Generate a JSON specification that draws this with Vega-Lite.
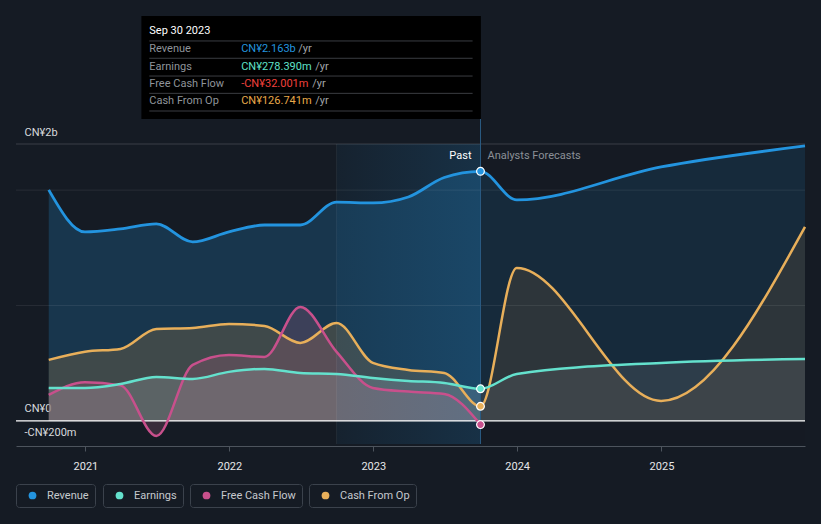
{
  "$schema": "https://vega.github.io/schema/vega-lite/v6.json",
  "width": 789,
  "height": 300,
  "autosize": {"type": "none"},
  "padding": {"left": 16, "top": 144, "right": 16, "bottom": 80},
  "background": "#151b24",
  "config": {
    "view": {"stroke": null},
    "font": "Roboto",
    "text": {"font": "Roboto", "fontSize": 11}
  },
  "datasets": {
    "fin": [
      {"date": "2020-09-30", "series": "Revenue", "value": 2002},
      {"date": "2020-12-31", "series": "Revenue", "value": 1638},
      {"date": "2021-03-31", "series": "Revenue", "value": 1664},
      {"date": "2021-06-30", "series": "Revenue", "value": 1707},
      {"date": "2021-09-30", "series": "Revenue", "value": 1551},
      {"date": "2021-12-31", "series": "Revenue", "value": 1638},
      {"date": "2022-03-31", "series": "Revenue", "value": 1698},
      {"date": "2022-06-30", "series": "Revenue", "value": 1698},
      {"date": "2022-09-30", "series": "Revenue", "value": 1896},
      {"date": "2022-12-31", "series": "Revenue", "value": 1889},
      {"date": "2023-03-31", "series": "Revenue", "value": 1941},
      {"date": "2023-06-30", "series": "Revenue", "value": 2110},
      {"date": "2023-09-30", "series": "Revenue", "value": 2163},
      {"date": "2023-12-31", "series": "Revenue", "value": 1915},
      {"date": "2024-12-31", "series": "Revenue", "value": 2201},
      {"date": "2025-12-31", "series": "Revenue", "value": 2383},
      {"date": "2020-09-30", "series": "Earnings", "value": 286},
      {"date": "2020-12-31", "series": "Earnings", "value": 286},
      {"date": "2021-03-31", "series": "Earnings", "value": 320},
      {"date": "2021-06-30", "series": "Earnings", "value": 381},
      {"date": "2021-09-30", "series": "Earnings", "value": 364},
      {"date": "2021-12-31", "series": "Earnings", "value": 425},
      {"date": "2022-03-31", "series": "Earnings", "value": 451},
      {"date": "2022-06-30", "series": "Earnings", "value": 416},
      {"date": "2022-09-30", "series": "Earnings", "value": 407},
      {"date": "2022-12-31", "series": "Earnings", "value": 373},
      {"date": "2023-03-31", "series": "Earnings", "value": 347},
      {"date": "2023-06-30", "series": "Earnings", "value": 329},
      {"date": "2023-09-30", "series": "Earnings", "value": 278.39},
      {"date": "2023-12-31", "series": "Earnings", "value": 407},
      {"date": "2024-12-31", "series": "Earnings", "value": 503},
      {"date": "2025-12-31", "series": "Earnings", "value": 537},
      {"date": "2020-09-30", "series": "Free Cash Flow", "value": 225},
      {"date": "2020-12-31", "series": "Free Cash Flow", "value": 336},
      {"date": "2021-03-31", "series": "Free Cash Flow", "value": 308},
      {"date": "2021-06-30", "series": "Free Cash Flow", "value": -130},
      {"date": "2021-09-30", "series": "Free Cash Flow", "value": 485},
      {"date": "2021-12-31", "series": "Free Cash Flow", "value": 572},
      {"date": "2022-03-31", "series": "Free Cash Flow", "value": 555},
      {"date": "2022-06-30", "series": "Free Cash Flow", "value": 988},
      {"date": "2022-09-30", "series": "Free Cash Flow", "value": 598},
      {"date": "2022-12-31", "series": "Free Cash Flow", "value": 286},
      {"date": "2023-03-31", "series": "Free Cash Flow", "value": 254},
      {"date": "2023-06-30", "series": "Free Cash Flow", "value": 234},
      {"date": "2023-09-30", "series": "Free Cash Flow", "value": -32.001},
      {"date": "2020-09-30", "series": "Cash From Op", "value": 529},
      {"date": "2020-12-31", "series": "Cash From Op", "value": 600},
      {"date": "2021-03-31", "series": "Cash From Op", "value": 624},
      {"date": "2021-06-30", "series": "Cash From Op", "value": 797},
      {"date": "2021-09-30", "series": "Cash From Op", "value": 806},
      {"date": "2021-12-31", "series": "Cash From Op", "value": 841},
      {"date": "2022-03-31", "series": "Cash From Op", "value": 823},
      {"date": "2022-06-30", "series": "Cash From Op", "value": 676},
      {"date": "2022-09-30", "series": "Cash From Op", "value": 849},
      {"date": "2022-12-31", "series": "Cash From Op", "value": 503},
      {"date": "2023-03-31", "series": "Cash From Op", "value": 442},
      {"date": "2023-06-30", "series": "Cash From Op", "value": 416},
      {"date": "2023-09-30", "series": "Cash From Op", "value": 126.741},
      {"date": "2023-12-31", "series": "Cash From Op", "value": 1326},
      {"date": "2024-12-31", "series": "Cash From Op", "value": 173},
      {"date": "2025-12-31", "series": "Cash From Op", "value": 1681}
    ],
    "tip": [
      {"label": "Revenue", "amount": "CN¥2.163b", "unit": "/yr"},
      {"label": "Earnings", "amount": "CN¥278.390m", "unit": "/yr"},
      {"label": "Free Cash Flow", "amount": "-CN¥32.001m", "unit": "/yr"},
      {"label": "Cash From Op", "amount": "CN¥126.741m", "unit": "/yr"}
    ]
  },
  "resolve": {"scale": {"stroke": "independent"}, "legend": {"stroke": "independent"}},
  "layer": [
    {
      "data": {"name": "fin"},
      "transform": [{"filter": "datum.series == 'Revenue'"}],
      "mark": {"type": "area", "interpolate": "monotone", "color": "#2394df", "opacity": 0.22},
      "encoding": {
        "x": {
          "field": "date", "type": "temporal", "title": null,
          "scale": {"domain": [{"year": 2020, "month": 7, "date": 9}, {"year": 2025, "month": 12, "date": 31}]},
          "axis": {
            "values": [
              {"year": 2021, "month": 1, "date": 1},
              {"year": 2022, "month": 1, "date": 1},
              {"year": 2023, "month": 1, "date": 1},
              {"year": 2024, "month": 1, "date": 1},
              {"year": 2025, "month": 1, "date": 1}
            ],
            "format": "%Y", "grid": false, "offset": 2,
            "domainColor": "#4d545d", "tickColor": "#4d545d", "tickSize": 5,
            "labelColor": "#e6e7e9", "labelFontSize": 11, "labelFont": "Roboto",
            "labelPadding": 9, "labelFlush": false, "title": null
          }
        },
        "y": {
          "field": "value", "type": "quantitative", "title": null,
          "scale": {"domain": [-200, 2400], "nice": false, "zero": false},
          "axis": {
            "values": [-200, 0, 2400],
            "labelExpr": "datum.value == 2400 ? 'CN¥2b' : datum.value == 0 ? 'CN¥0' : '-CN¥200m'",
            "grid": false, "domain": false, "ticks": false,
            "labelAlign": "left", "labelBaseline": "middle", "labelPadding": -8, "labelOffset": -12,
            "labelColor": "#d8dadd", "labelFontSize": 11, "labelFont": "Roboto",
            "labelOverlap": false, "labelBound": false, "labelFlush": false, "title": null
          }
        },
        "y2": {"datum": 0}
      }
    },
    {
      "data": {"name": "fin"},
      "transform": [{"filter": "datum.series == 'Cash From Op'"}],
      "mark": {"type": "area", "interpolate": "monotone", "color": "#6e6247", "opacity": 0.45},
      "encoding": {
        "x": {"field": "date", "type": "temporal", "title": null},
        "y": {"field": "value", "type": "quantitative", "title": null},
        "y2": {"datum": 0}
      }
    },
    {
      "data": {"name": "fin"},
      "transform": [{"filter": "datum.series == 'Free Cash Flow'"}],
      "mark": {"type": "area", "interpolate": "monotone", "color": "#a86080", "opacity": 0.25},
      "encoding": {
        "x": {"field": "date", "type": "temporal", "title": null},
        "y": {"field": "value", "type": "quantitative", "title": null},
        "y2": {"datum": 0}
      }
    },
    {
      "data": {"name": "fin"},
      "transform": [{"filter": "datum.series == 'Earnings'"}],
      "mark": {"type": "area", "interpolate": "monotone", "color": "#a4a8ac", "opacity": 0.28},
      "encoding": {
        "x": {"field": "date", "type": "temporal", "title": null},
        "y": {"field": "value", "type": "quantitative", "title": null},
        "y2": {"datum": 0}
      }
    },
    {
      "data": {"values": [{}]},
      "mark": {"type": "rect", "color": "#151b24", "opacity": 0.42},
      "encoding": {
        "x": {"datum": {"year": 2023, "month": 9, "date": 30}, "type": "temporal"},
        "x2": {"datum": {"year": 2025, "month": 12, "date": 31}},
        "y": {"datum": -200, "type": "quantitative"},
        "y2": {"datum": 2400}
      }
    },
    {
      "data": {"values": [{}]},
      "mark": {
        "type": "rect",
        "fill": {
          "gradient": "linear", "x1": 0, "y1": 0, "x2": 1, "y2": 0,
          "stops": [
            {"offset": 0, "color": "rgba(35,148,223,0.06)"},
            {"offset": 1, "color": "rgba(35,148,223,0.18)"}
          ]
        }
      },
      "encoding": {
        "x": {"datum": {"year": 2022, "month": 9, "date": 30}, "type": "temporal"},
        "x2": {"datum": {"year": 2023, "month": 9, "date": 30}},
        "y": {"datum": -200, "type": "quantitative"},
        "y2": {"datum": 2400}
      }
    },
    {
      "data": {"values": [{"v": 2000}, {"v": 1000}]},
      "mark": {"type": "rule", "color": "#ffffff", "opacity": 0.08, "strokeWidth": 1},
      "encoding": {"y": {"field": "v", "type": "quantitative", "title": null}}
    },
    {
      "data": {"values": [{}]},
      "mark": {"type": "rule", "color": "#ffffff", "opacity": 0.16, "strokeWidth": 1},
      "encoding": {"y": {"datum": 2400, "type": "quantitative"}}
    },
    {
      "data": {"values": [{}]},
      "mark": {"type": "rule", "color": "#ffffff", "opacity": 0.06, "strokeWidth": 1},
      "encoding": {
        "x": {"datum": {"year": 2022, "month": 9, "date": 30}, "type": "temporal"},
        "y": {"datum": -200, "type": "quantitative"},
        "y2": {"datum": 2400}
      }
    },
    {
      "data": {"values": [{}]},
      "mark": {"type": "rule", "color": "#2a5b82", "strokeWidth": 1},
      "encoding": {
        "x": {"datum": {"year": 2023, "month": 9, "date": 30}, "type": "temporal"},
        "y": {"datum": -200, "type": "quantitative"},
        "y2": {"datum": 2617}
      }
    },
    {
      "data": {"values": [{}]},
      "mark": {"type": "rule", "color": "#ffffff", "strokeWidth": 1.3},
      "encoding": {"y": {"datum": 0, "type": "quantitative"}}
    },
    {
      "data": {"name": "fin"},
      "transform": [{"filter": "datum.series == 'Cash From Op'"}],
      "mark": {"type": "line", "interpolate": "monotone", "strokeWidth": 2.5},
      "encoding": {
        "x": {"field": "date", "type": "temporal", "title": null},
        "y": {"field": "value", "type": "quantitative", "title": null},
        "stroke": {
          "field": "series", "type": "nominal", "scale": {"range": ["#e8af5a"]},
          "legend": {
            "title": null, "orient": "none", "legendX": 293, "legendY": 340, "direction": "horizontal",
            "symbolType": "circle", "symbolSize": 60, "symbolStrokeWidth": 0, "symbolOffset": 5,
            "labelOffset": 9, "labelColor": "#c5c9ce", "labelFontSize": 11, "labelFont": "Roboto",
            "strokeColor": "#3b424c", "padding": 6, "cornerRadius": 3,
            "encode": {"symbols": {"update": {"fill": {"value": "#e8af5a"}, "fillOpacity": {"value": 1}}}}
          }
        }
      }
    },
    {
      "data": {"name": "fin"},
      "transform": [{"filter": "datum.series == 'Free Cash Flow'"}],
      "mark": {"type": "line", "interpolate": "monotone", "strokeWidth": 2.5},
      "encoding": {
        "x": {"field": "date", "type": "temporal", "title": null},
        "y": {"field": "value", "type": "quantitative", "title": null},
        "stroke": {
          "field": "series", "type": "nominal", "scale": {"range": ["#c8508c"]},
          "legend": {
            "title": null, "orient": "none", "legendX": 174, "legendY": 340, "direction": "horizontal",
            "symbolType": "circle", "symbolSize": 60, "symbolStrokeWidth": 0, "symbolOffset": 5,
            "labelOffset": 9, "labelColor": "#c5c9ce", "labelFontSize": 11, "labelFont": "Roboto",
            "strokeColor": "#3b424c", "padding": 6, "cornerRadius": 3,
            "encode": {"symbols": {"update": {"fill": {"value": "#c8508c"}, "fillOpacity": {"value": 1}}}}
          }
        }
      }
    },
    {
      "data": {"name": "fin"},
      "transform": [{"filter": "datum.series == 'Earnings'"}],
      "mark": {"type": "line", "interpolate": "monotone", "strokeWidth": 2.5},
      "encoding": {
        "x": {"field": "date", "type": "temporal", "title": null},
        "y": {"field": "value", "type": "quantitative", "title": null},
        "stroke": {
          "field": "series", "type": "nominal", "scale": {"range": ["#64e1cd"]},
          "legend": {
            "title": null, "orient": "none", "legendX": 87, "legendY": 340, "direction": "horizontal",
            "symbolType": "circle", "symbolSize": 60, "symbolStrokeWidth": 0, "symbolOffset": 5,
            "labelOffset": 9, "labelColor": "#c5c9ce", "labelFontSize": 11, "labelFont": "Roboto",
            "strokeColor": "#3b424c", "padding": 6, "cornerRadius": 3,
            "encode": {"symbols": {"update": {"fill": {"value": "#64e1cd"}, "fillOpacity": {"value": 1}}}}
          }
        }
      }
    },
    {
      "data": {"name": "fin"},
      "transform": [{"filter": "datum.series == 'Revenue'"}],
      "mark": {"type": "line", "interpolate": "monotone", "strokeWidth": 2.8},
      "encoding": {
        "x": {"field": "date", "type": "temporal", "title": null},
        "y": {"field": "value", "type": "quantitative", "title": null},
        "stroke": {
          "field": "series", "type": "nominal", "scale": {"range": ["#2394df"]},
          "legend": {
            "title": null, "orient": "none", "legendX": 0, "legendY": 340, "direction": "horizontal",
            "symbolType": "circle", "symbolSize": 60, "symbolStrokeWidth": 0, "symbolOffset": 5,
            "labelOffset": 9, "labelColor": "#c5c9ce", "labelFontSize": 11, "labelFont": "Roboto",
            "strokeColor": "#3b424c", "padding": 6, "cornerRadius": 3,
            "encode": {"symbols": {"update": {"fill": {"value": "#2394df"}, "fillOpacity": {"value": 1}}}}
          }
        }
      }
    },
    {
      "data": {"name": "fin"},
      "transform": [{"filter": "utcyear(datum.date) == 2023 && utcmonth(datum.date) == 8 && utcdate(datum.date) == 30"}],
      "mark": {"type": "circle", "size": 60, "opacity": 1, "stroke": "#ffffff", "strokeWidth": 1.2},
      "encoding": {
        "x": {"field": "date", "type": "temporal", "title": null},
        "y": {"field": "value", "type": "quantitative", "title": null},
        "fill": {
          "field": "series", "type": "nominal",
          "scale": {"domain": ["Revenue", "Earnings", "Free Cash Flow", "Cash From Op"], "range": ["#2394df", "#64e1cd", "#c8508c", "#e8af5a"]},
          "legend": null
        }
      }
    },
    {
      "data": {"values": [{"text": "Past"}]},
      "mark": {"type": "text", "align": "right", "baseline": "middle", "dx": -9, "color": "#ffffff", "fontSize": 11},
      "encoding": {
        "x": {"datum": {"year": 2023, "month": 9, "date": 30}, "type": "temporal"},
        "y": {"datum": 2296, "type": "quantitative"},
        "text": {"field": "text"}
      }
    },
    {
      "data": {"values": [{"text": "Analysts Forecasts"}]},
      "mark": {"type": "text", "align": "left", "baseline": "middle", "dx": 7, "color": "#8b9097", "fontSize": 11},
      "encoding": {
        "x": {"datum": {"year": 2023, "month": 9, "date": 30}, "type": "temporal"},
        "y": {"datum": 2296, "type": "quantitative"},
        "text": {"field": "text"}
      }
    },
    {
      "data": {"values": [{}]},
      "mark": {"type": "rect", "color": "#000000"},
      "encoding": {
        "x": {"datum": {"year": 2021, "month": 5, "date": 23}, "type": "temporal"},
        "x2": {"datum": {"year": 2023, "month": 10, "date": 1}},
        "y": {"datum": 3509, "type": "quantitative"},
        "y2": {"datum": 2617}
      }
    },
    {
      "data": {"values": [{"text": "Sep 30 2023"}]},
      "layer": [
        {
          "mark": {"type": "text", "align": "left", "baseline": "middle", "color": "#ffffff", "fontSize": 11},
          "encoding": {
            "x": {"datum": {"year": 2021, "month": 6, "date": 12}, "type": "temporal"},
            "y": {"datum": 3379, "type": "quantitative"},
            "text": {"field": "text"}
          }
        },
        {
          "mark": {"type": "rule", "color": "#3a3d42", "strokeWidth": 1},
          "encoding": {
            "x": {"datum": {"year": 2021, "month": 6, "date": 12}, "type": "temporal"},
            "x2": {"datum": {"year": 2023, "month": 9, "date": 10}},
            "y": {"datum": 3293, "type": "quantitative"}
          }
        }
      ]
    },
    {
      "data": {"name": "tip"},
      "transform": [{"filter": "datum.label == 'Revenue'"}],
      "layer": [
        {
          "mark": {"type": "text", "align": "left", "baseline": "middle", "color": "#8f949a", "fontSize": 11},
          "encoding": {"x": {"datum": {"year": 2021, "month": 6, "date": 12}, "type": "temporal"}, "y": {"datum": 3223, "type": "quantitative"}, "text": {"field": "label"}}
        },
        {
          "mark": {"type": "text", "align": "left", "baseline": "middle", "color": "#2394df", "fontSize": 11},
          "encoding": {"x": {"datum": {"year": 2022, "month": 1, "date": 31}, "type": "temporal"}, "y": {"datum": 3223, "type": "quantitative"}, "text": {"field": "amount"}}
        },
        {
          "mark": {"type": "text", "align": "left", "baseline": "middle", "color": "#a0a4a8", "fontSize": 11, "dx": 57},
          "encoding": {"x": {"datum": {"year": 2022, "month": 1, "date": 31}, "type": "temporal"}, "y": {"datum": 3223, "type": "quantitative"}, "text": {"field": "unit"}}
        },
        {
          "mark": {"type": "rule", "color": "#3a3d42", "strokeWidth": 1},
          "encoding": {"x": {"datum": {"year": 2021, "month": 6, "date": 12}, "type": "temporal"}, "x2": {"datum": {"year": 2023, "month": 9, "date": 10}}, "y": {"datum": 3143, "type": "quantitative"}}
        }
      ]
    },
    {
      "data": {"name": "tip"},
      "transform": [{"filter": "datum.label == 'Earnings'"}],
      "layer": [
        {
          "mark": {"type": "text", "align": "left", "baseline": "middle", "color": "#8f949a", "fontSize": 11},
          "encoding": {"x": {"datum": {"year": 2021, "month": 6, "date": 12}, "type": "temporal"}, "y": {"datum": 3070, "type": "quantitative"}, "text": {"field": "label"}}
        },
        {
          "mark": {"type": "text", "align": "left", "baseline": "middle", "color": "#5fe1c8", "fontSize": 11},
          "encoding": {"x": {"datum": {"year": 2022, "month": 1, "date": 31}, "type": "temporal"}, "y": {"datum": 3070, "type": "quantitative"}, "text": {"field": "amount"}}
        },
        {
          "mark": {"type": "text", "align": "left", "baseline": "middle", "color": "#a0a4a8", "fontSize": 11, "dx": 74},
          "encoding": {"x": {"datum": {"year": 2022, "month": 1, "date": 31}, "type": "temporal"}, "y": {"datum": 3070, "type": "quantitative"}, "text": {"field": "unit"}}
        },
        {
          "mark": {"type": "rule", "color": "#3a3d42", "strokeWidth": 1},
          "encoding": {"x": {"datum": {"year": 2021, "month": 6, "date": 12}, "type": "temporal"}, "x2": {"datum": {"year": 2023, "month": 9, "date": 10}}, "y": {"datum": 2989, "type": "quantitative"}}
        }
      ]
    },
    {
      "data": {"name": "tip"},
      "transform": [{"filter": "datum.label == 'Free Cash Flow'"}],
      "layer": [
        {
          "mark": {"type": "text", "align": "left", "baseline": "middle", "color": "#8f949a", "fontSize": 11},
          "encoding": {"x": {"datum": {"year": 2021, "month": 6, "date": 12}, "type": "temporal"}, "y": {"datum": 2917, "type": "quantitative"}, "text": {"field": "label"}}
        },
        {
          "mark": {"type": "text", "align": "left", "baseline": "middle", "color": "#f0403c", "fontSize": 11},
          "encoding": {"x": {"datum": {"year": 2022, "month": 1, "date": 31}, "type": "temporal"}, "y": {"datum": 2917, "type": "quantitative"}, "text": {"field": "amount"}}
        },
        {
          "mark": {"type": "text", "align": "left", "baseline": "middle", "color": "#a0a4a8", "fontSize": 11, "dx": 71},
          "encoding": {"x": {"datum": {"year": 2022, "month": 1, "date": 31}, "type": "temporal"}, "y": {"datum": 2917, "type": "quantitative"}, "text": {"field": "unit"}}
        },
        {
          "mark": {"type": "rule", "color": "#3a3d42", "strokeWidth": 1},
          "encoding": {"x": {"datum": {"year": 2021, "month": 6, "date": 12}, "type": "temporal"}, "x2": {"datum": {"year": 2023, "month": 9, "date": 10}}, "y": {"datum": 2839, "type": "quantitative"}}
        }
      ]
    },
    {
      "data": {"name": "tip"},
      "transform": [{"filter": "datum.label == 'Cash From Op'"}],
      "layer": [
        {
          "mark": {"type": "text", "align": "left", "baseline": "middle", "color": "#8f949a", "fontSize": 11},
          "encoding": {"x": {"datum": {"year": 2021, "month": 6, "date": 12}, "type": "temporal"}, "y": {"datum": 2770, "type": "quantitative"}, "text": {"field": "label"}}
        },
        {
          "mark": {"type": "text", "align": "left", "baseline": "middle", "color": "#e9a94a", "fontSize": 11},
          "encoding": {"x": {"datum": {"year": 2022, "month": 1, "date": 31}, "type": "temporal"}, "y": {"datum": 2770, "type": "quantitative"}, "text": {"field": "amount"}}
        },
        {
          "mark": {"type": "text", "align": "left", "baseline": "middle", "color": "#a0a4a8", "fontSize": 11, "dx": 74},
          "encoding": {"x": {"datum": {"year": 2022, "month": 1, "date": 31}, "type": "temporal"}, "y": {"datum": 2770, "type": "quantitative"}, "text": {"field": "unit"}}
        },
        {
          "mark": {"type": "rule", "color": "#3a3d42", "strokeWidth": 1},
          "encoding": {"x": {"datum": {"year": 2021, "month": 6, "date": 12}, "type": "temporal"}, "x2": {"datum": {"year": 2023, "month": 9, "date": 10}}, "y": {"datum": 2686, "type": "quantitative"}}
        }
      ]
    }
  ]
}
